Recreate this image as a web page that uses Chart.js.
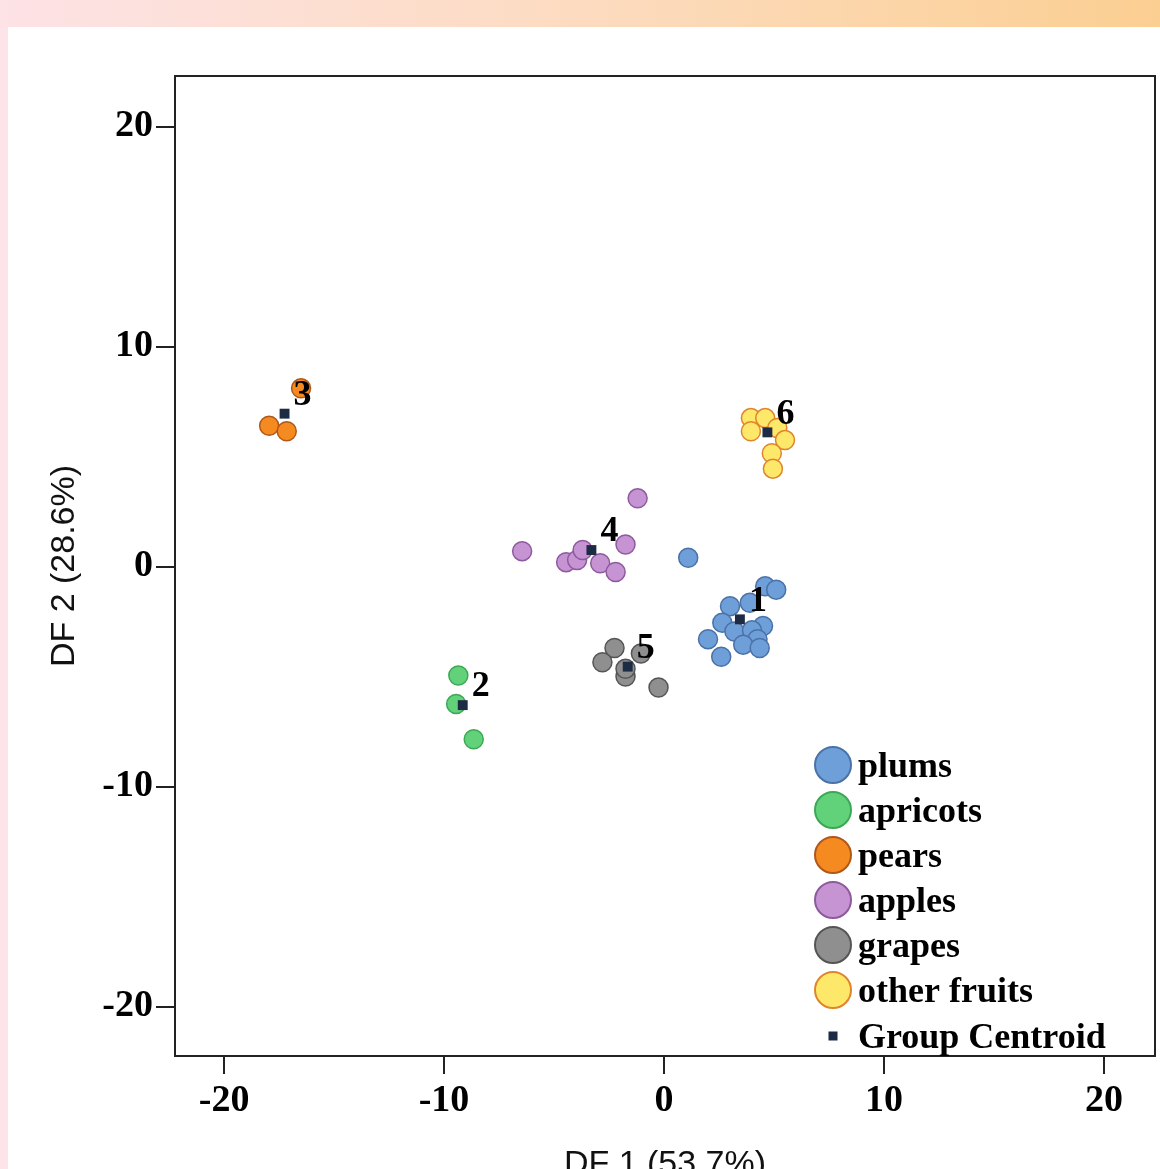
<!DOCTYPE html>
<html>
<head>
<meta charset="utf-8">
<script src="https://cdn.jsdelivr.net/npm/chart.js@4"></script>
<style>
    html, body { margin: 0; padding: 0; overflow: hidden; }
    body {
        width: 1160px;
        height: 1169px;
        background:
            linear-gradient(to right, #fde2e6, #fcdcc4 45%, #fbcf92) top left / 100% 27px no-repeat,
            linear-gradient(#fde4e8, #fde4e8) top left / 8px 100% no-repeat,
            #ffffff;
    }
    #chart { position: absolute; left: 0; top: 0; }
</style>
</head>
<body>
<canvas id="chart" width="1160" height="1200"></canvas>
<script>
// discriminant scores, [DF1, DF2]
const plums = [[1.1, 0.4], [4.6, -0.9], [5.1, -1.05], [3.0, -1.8], [3.9, -1.65], [2.65, -2.55],
    [4.5, -2.7], [3.2, -2.95], [4.0, -2.9], [4.25, -3.3], [3.6, -3.55], [4.35, -3.7],
    [2.0, -3.3], [2.6, -4.1]];
const apricots = [[-9.35, -4.95], [-9.45, -6.25], [-8.65, -7.85]];
const pears = [[-17.95, 6.4], [-17.15, 6.15], [-16.5, 8.1]];
const apples = [[-1.2, 3.1], [-6.45, 0.7], [-4.45, 0.2], [-3.95, 0.3], [-3.7, 0.75], [-2.9, 0.15],
    [-2.2, -0.25], [-1.75, 1.0]];
const grapes = [[-2.25, -3.7], [-2.8, -4.35], [-1.05, -3.95], [-1.75, -5.0], [-1.75, -4.65], [-0.25, -5.5]];
const otherFruits = [[3.95, 6.75], [4.6, 6.75], [3.95, 6.15], [5.15, 6.3], [5.5, 5.75], [4.9, 5.15], [4.95, 4.45]];

const groupNames = ['plums', 'apricots', 'pears', 'apples', 'grapes', 'other fruits'];
const groupPoints = [plums, apricots, pears, apples, grapes, otherFruits];
const centroids = [[3.45, -2.4], [-9.15, -6.3], [-17.25, 6.95], [-3.3, 0.75], [-1.65, -4.55], [4.7, 6.1]];
const centroidLabels = ['1', '2', '3', '4', '5', '6'];

const tickValues = [-20, -10, 0, 10, 20];
const xMin = -22.23, xMax = 22.32;
const yMin = -22.25, yMax = 22.3;

const fills = ['#6f9fd8', '#62d27a', '#f58a20', '#c693d3', '#8f8f8f', '#fde86a'];
const borders = ['#4a72a8', '#3ca855', '#b0581a', '#8e5a9e', '#555555', '#e0852c'];

const serif = '"Liberation Serif", "Times New Roman", serif';
const sans = '"Liberation Sans", Arial, sans-serif';

function toXY(pairs) {
    return pairs.map(function (p) { return { x: p[0], y: p[1] }; });
}

const datasets = groupNames.map(function (name, i) {
    return {
        label: name,
        data: toXY(groupPoints[i]),
        backgroundColor: fills[i],
        borderColor: borders[i],
        borderWidth: 1.5,
        pointRadius: 9.5,
        order: 1,
    };
});
datasets.push({
    label: 'Group Centroid',
    data: toXY(centroids),
    pointStyle: 'rect',
    pointRadius: 7,
    backgroundColor: '#1d2b45',
    borderColor: '#1d2b45',
    borderWidth: 0,
    order: 0,
});

// frame around the plot, centroid numbers, and the legend in the lower right
const decorations = {
    id: 'decorations',
    afterDatasetsDraw: function (chart) {
        const ctx = chart.ctx;
        const a = chart.chartArea;
        const xs = chart.scales.x;
        const ys = chart.scales.y;
        ctx.save();
        ctx.strokeStyle = '#222';
        ctx.lineWidth = 2;
        ctx.strokeRect(a.left, a.top, a.right - a.left, a.bottom - a.top);

        ctx.fillStyle = '#000';
        ctx.font = 'bold 36px ' + serif;
        ctx.textAlign = 'center';
        ctx.textBaseline = 'middle';
        centroids.forEach(function (c, i) {
            ctx.fillText(centroidLabels[i], xs.getPixelForValue(c[0]) + 18, ys.getPixelForValue(c[1]) - 18);
        });

        const lx = a.right - 322;
        let ly = a.bottom - 291;
        ctx.font = 'bold 36px ' + serif;
        ctx.textAlign = 'left';
        ctx.textBaseline = 'alphabetic';
        chart.data.datasets.forEach(function (ds, i) {
            if (ds.pointStyle === 'rect') {
                ctx.fillStyle = ds.backgroundColor;
                ctx.fillRect(lx - 4.5, ly - 4.5, 9, 9);
            } else {
                ctx.beginPath();
                ctx.arc(lx, ly, 18, 0, Math.PI * 2);
                ctx.fillStyle = ds.backgroundColor;
                ctx.fill();
                ctx.lineWidth = 2;
                ctx.strokeStyle = ds.borderColor;
                ctx.stroke();
            }
            ctx.fillStyle = '#000';
            ctx.fillText(ds.label, lx + 25, ly + 12);
            ly += i === chart.data.datasets.length - 2 ? 46 : 45;
        });
        ctx.restore();
    },
};

function fixedTicks(scale) {
    scale.ticks = tickValues.map(function (v) { return { value: v }; });
}

new Chart(document.getElementById('chart'), {
    type: 'scatter',
    data: { datasets: datasets },
    options: {
        responsive: false,
        animation: false,
        layout: { autoPadding: false, padding: { top: 76, right: 5, left: 0, bottom: 0 } },
        plugins: {
            legend: { display: false },
            tooltip: { enabled: false },
        },
        scales: {
            x: {
                min: xMin,
                max: xMax,
                afterBuildTicks: fixedTicks,
                afterFit: function (scale) {
                    scale.height = 144;
                    scale.paddingLeft = 0;
                    scale.paddingRight = 0;
                },
                grid: { drawOnChartArea: false, tickLength: 18, lineWidth: 2, color: '#222' },
                border: { display: false },
                ticks: { padding: 4, color: '#000', font: { family: serif, size: 38, weight: 'bold' } },
                title: {
                    display: true,
                    text: 'DF 1 (53.7%)',
                    color: '#111',
                    padding: { top: 0, bottom: 15 },
                    font: { family: sans, size: 34 },
                },
            },
            y: {
                min: yMin,
                max: yMax,
                afterBuildTicks: fixedTicks,
                afterFit: function (scale) {
                    scale.width = 175;
                    scale.paddingTop = 0;
                    scale.paddingBottom = 0;
                },
                grid: { drawOnChartArea: false, tickLength: 19, lineWidth: 2, color: '#222' },
                border: { display: false },
                ticks: { padding: 3, color: '#000', font: { family: serif, size: 38, weight: 'bold' } },
                title: {
                    display: true,
                    text: 'DF 2 (28.6%)',
                    color: '#111',
                    padding: { top: 44, bottom: 0 },
                    font: { family: sans, size: 34 },
                },
            },
        },
    },
    plugins: [decorations],
});
</script>
</body>
</html>
